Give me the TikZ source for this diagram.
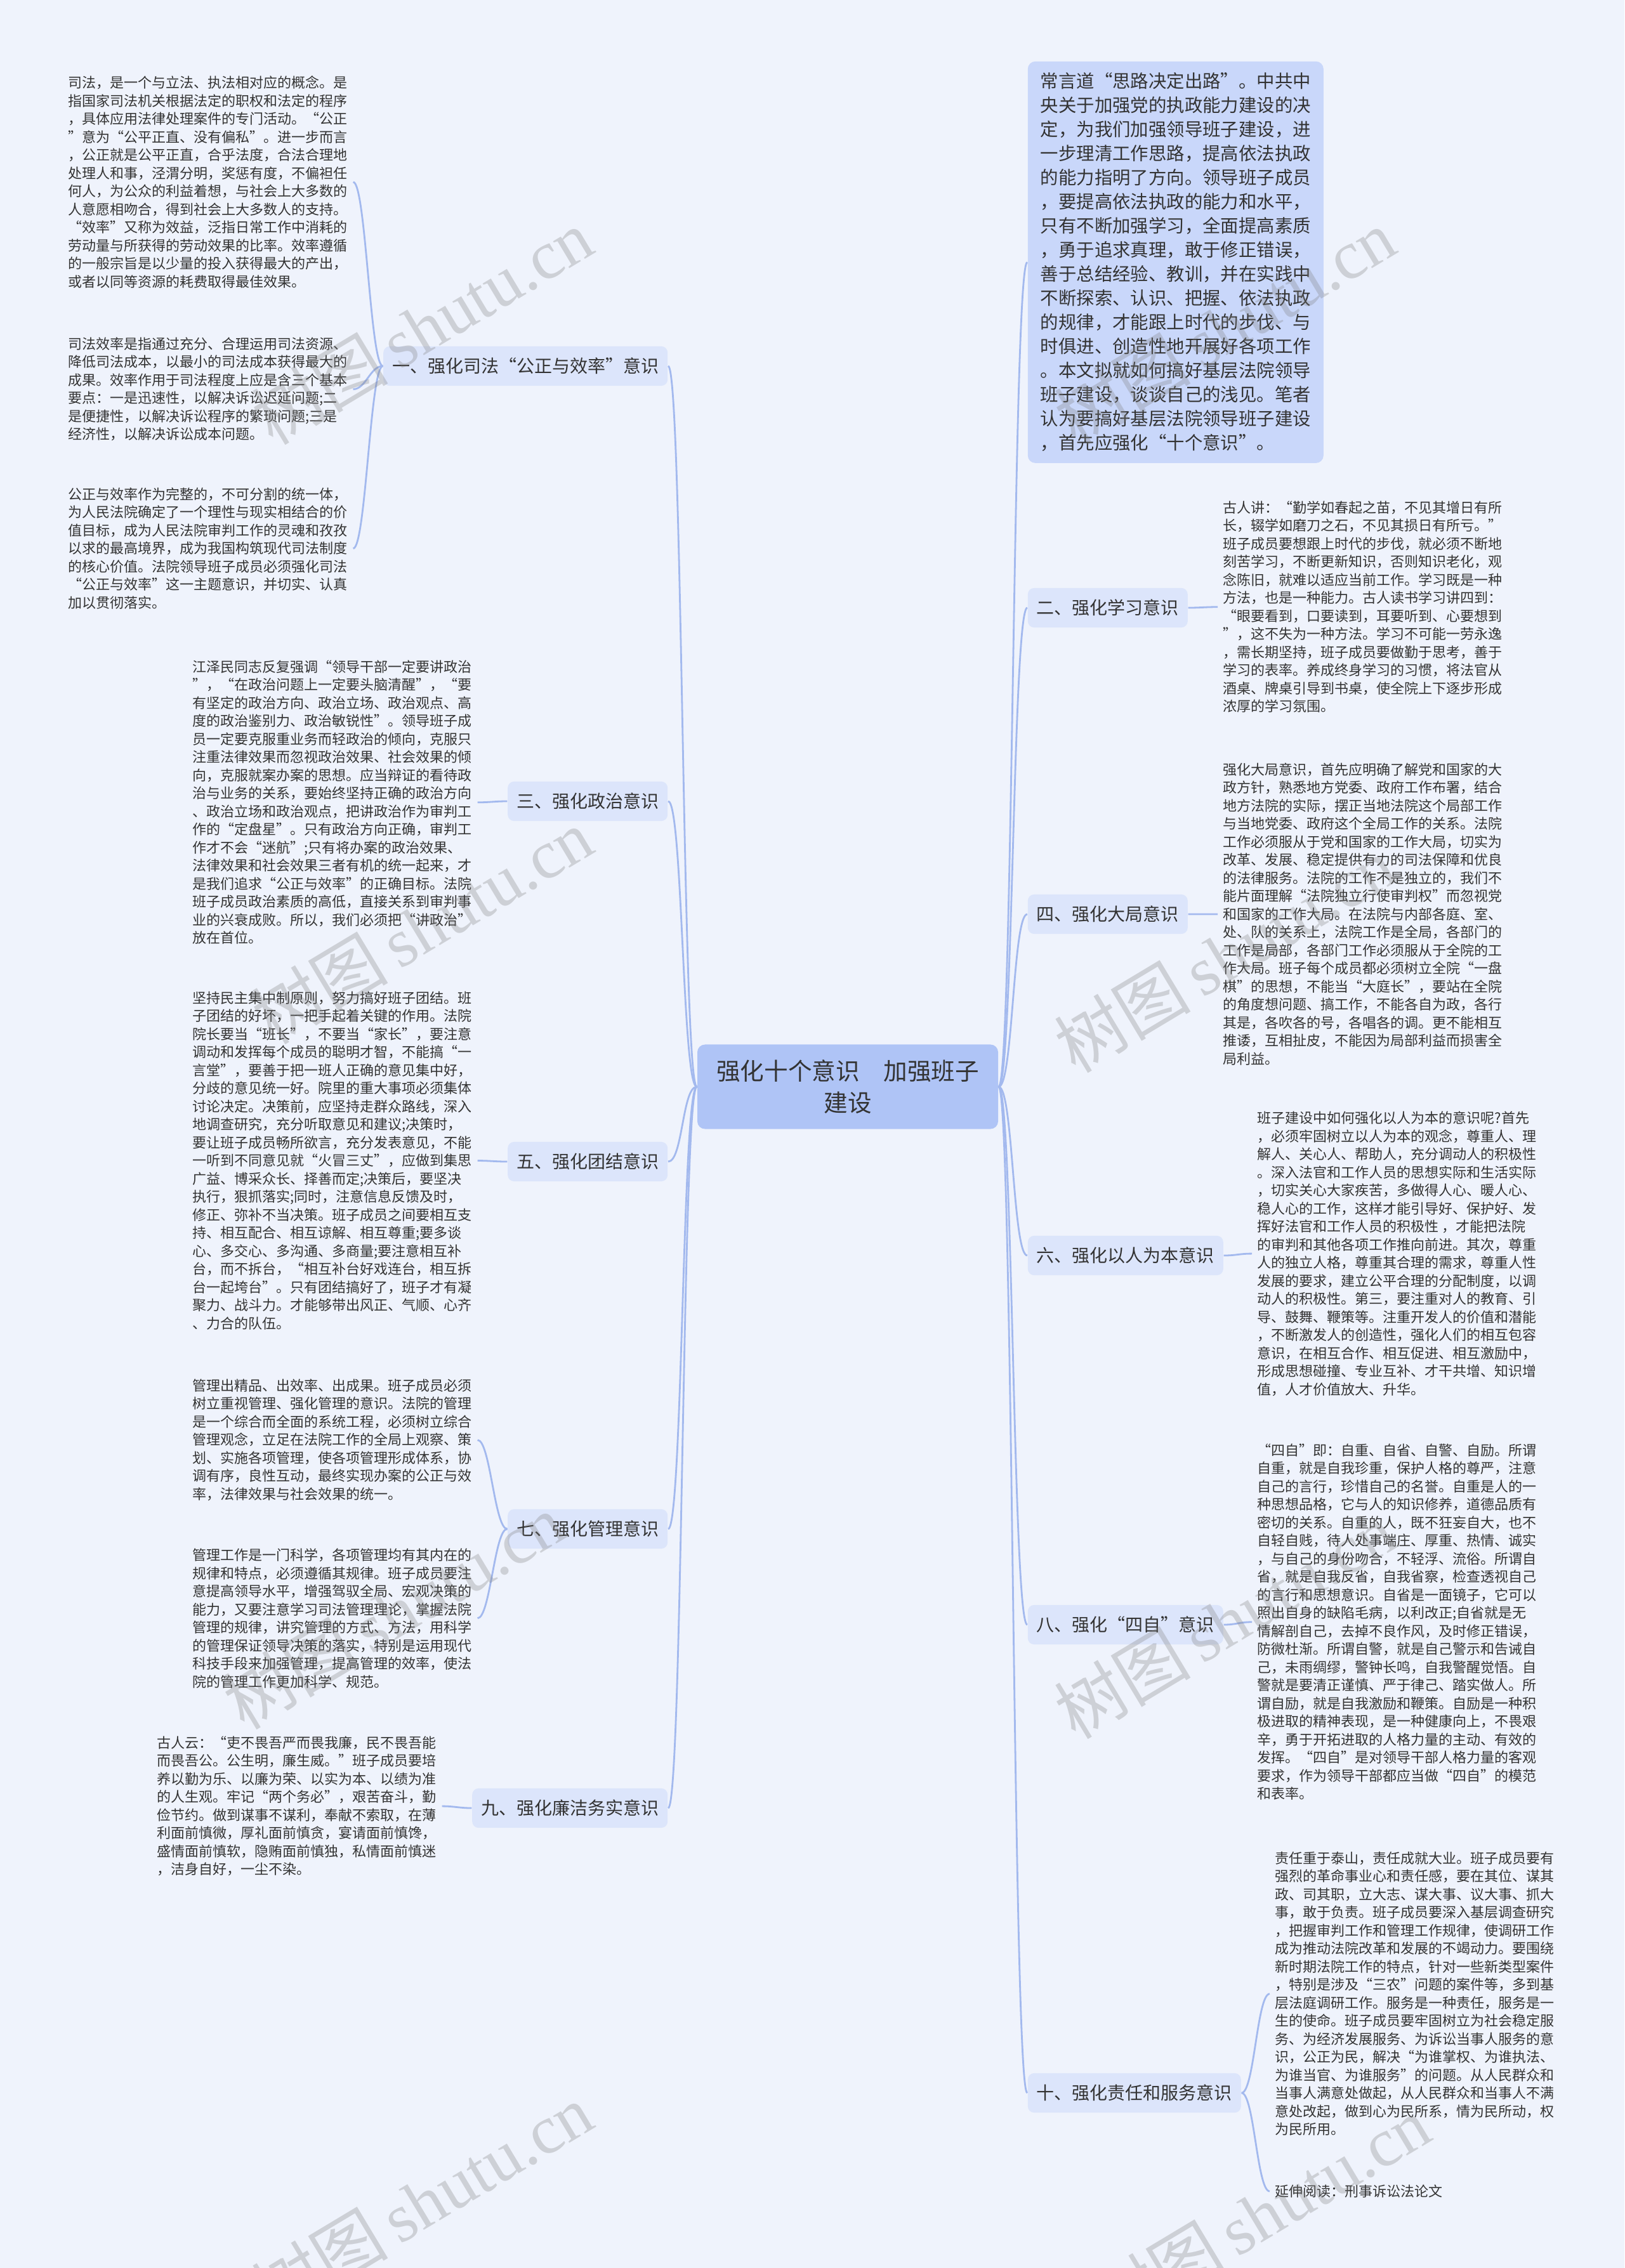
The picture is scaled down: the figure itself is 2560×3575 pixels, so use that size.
\documentclass[tikz,border=0pt]{standalone}
\usepackage{fontspec}
\setmainfont{Noto Sans CJK SC}
\newfontfamily\wmlatin{Liberation Serif}
\definecolor{bgcol}{HTML}{EFF3FC}
\definecolor{linecol}{HTML}{A3B9EE}
\definecolor{branchfill}{HTML}{DCE5FB}
\definecolor{introfill}{HTML}{C9D7FA}
\definecolor{centerfill}{HTML}{AFC4F6}
\definecolor{txtgray}{HTML}{333333}
\begin{document}
\begin{tikzpicture}[x=0.25pt,y=-0.25pt,
  txt/.style={font=\fontsize{5.5}{7.125}\selectfont, text=txtgray, align=left,
    inner xsep=2pt, inner ysep=0pt},
  branch/.style={font=\fontsize{7}{8}\selectfont, text=txtgray, fill=branchfill,
    rounded corners=2.5pt, inner xsep=3.5pt, inner ysep=4.5pt},
  intro/.style={font=\fontsize{7.1}{9.5}\selectfont, text=txtgray, fill=introfill,
    rounded corners=3pt, align=left, inner xsep=5pt, inner ysep=4.5pt},
  root/.style={font=\fontsize{9.4}{12.5}\selectfont, text=txtgray, fill=centerfill,
    rounded corners=3pt, align=center, minimum width=118.5pt, inner ysep=6pt},
  link/.style={draw=linecol, line width=0.7pt},
  wmark/.style={font=\fontsize{27}{27}\selectfont, text=gray, opacity=0.3, rotate=31}]

  \fill[bgcol] (0,0) rectangle (2560,3575);
  \useasboundingbox (0,0) rectangle (2560,3575);

  % centre
  \node[root] (ctr) at (1336,1713) {强化十个意识　加强班子\\建设};

  % left branches
  \node[branch, anchor=east] (b1) at (1053,577) {一、强化司法“公正与效率”意识};
  \node[branch, anchor=east] (b3) at (1053,1263) {三、强化政治意识};
  \node[branch, anchor=east] (b5) at (1053,1831) {五、强化团结意识};
  \node[branch, anchor=east] (b7) at (1053,2410) {七、强化管理意识};
  \node[branch, anchor=east] (b9) at (1053,2850) {九、强化廉洁务实意识};

  % right branches
  \node[intro, anchor=north west] (intro) at (1619,96) {常言道“思路决定出路”。中共中\\央关于加强党的执政能力建设的决\\定，为我们加强领导班子建设，进\\一步理清工作思路，提高依法执政\\的能力指明了方向。领导班子成员\\，要提高依法执政的能力和水平，\\只有不断加强学习，全面提高素质\\，勇于追求真理，敢于修正错误，\\善于总结经验、教训，并在实践中\\不断探索、认识、把握、依法执政\\的规律，才能跟上时代的步伐、与\\时俱进、创造性地开展好各项工作\\。本文拟就如何搞好基层法院领导\\班子建设，谈谈自己的浅见。笔者\\认为要搞好基层法院领导班子建设\\，首先应强化“十个意识”。};
  \node[branch, anchor=west] (b2) at (1619,958) {二、强化学习意识};
  \node[branch, anchor=west] (b4) at (1619,1441) {四、强化大局意识};
  \node[branch, anchor=west] (b6) at (1619,1979) {六、强化以人为本意识};
  \node[branch, anchor=west] (b8) at (1619,2561) {八、强化“四自”意识};
  \node[branch, anchor=west] (b10) at (1619,3299) {十、强化责任和服务意识};

  % left texts
  \node[txt, anchor=north west] (t1a) at (99,119) {司法，是一个与立法、执法相对应的概念。是\\指国家司法机关根据法定的职权和法定的程序\\，具体应用法律处理案件的专门活动。“公正\\”意为“公平正直、没有偏私”。进一步而言\\，公正就是公平正直，合乎法度，合法合理地\\处理人和事，泾渭分明，奖惩有度，不偏袒任\\何人，为公众的利益着想，与社会上大多数的\\人意愿相吻合，得到社会上大多数人的支持。\\“效率”又称为效益，泛指日常工作中消耗的\\劳动量与所获得的劳动效果的比率。效率遵循\\的一般宗旨是以少量的投入获得最大的产出，\\或者以同等资源的耗费取得最佳效果。};
  \node[txt, anchor=north west] (t1b) at (99,531) {司法效率是指通过充分、合理运用司法资源、\\降低司法成本，以最小的司法成本获得最大的\\成果。效率作用于司法程度上应是含三个基本\\要点：一是迅速性，以解决诉讼迟延问题;二\\是便捷性，以解决诉讼程序的繁琐问题;三是\\经济性，以解决诉讼成本问题。};
  \node[txt, anchor=north west] (t1c) at (99,768) {公正与效率作为完整的，不可分割的统一体，\\为人民法院确定了一个理性与现实相结合的价\\值目标，成为人民法院审判工作的灵魂和孜孜\\以求的最高境界，成为我国构筑现代司法制度\\的核心价值。法院领导班子成员必须强化司法\\“公正与效率”这一主题意识，并切实、认真\\加以贯彻落实。};
  \node[txt, anchor=north west] (t3) at (295,1040) {江泽民同志反复强调“领导干部一定要讲政治\\”，“在政治问题上一定要头脑清醒”，“要\\有坚定的政治方向、政治立场、政治观点、高\\度的政治鉴别力、政治敏锐性”。领导班子成\\员一定要克服重业务而轻政治的倾向，克服只\\注重法律效果而忽视政治效果、社会效果的倾\\向，克服就案办案的思想。应当辩证的看待政\\治与业务的关系，要始终坚持正确的政治方向\\、政治立场和政治观点，把讲政治作为审判工\\作的“定盘星”。只有政治方向正确，审判工\\作才不会“迷航”;只有将办案的政治效果、\\法律效果和社会效果三者有机的统一起来，才\\是我们追求“公正与效率”的正确目标。法院\\班子成员政治素质的高低，直接关系到审判事\\业的兴衰成败。所以，我们必须把“讲政治”\\放在首位。};
  \node[txt, anchor=north west] (t5) at (295,1562) {坚持民主集中制原则，努力搞好班子团结。班\\子团结的好坏，一把手起着关键的作用。法院\\院长要当“班长”，不要当“家长”，要注意\\调动和发挥每个成员的聪明才智，不能搞“一\\言堂”，要善于把一班人正确的意见集中好，\\分歧的意见统一好。院里的重大事项必须集体\\讨论决定。决策前，应坚持走群众路线，深入\\地调查研究，充分听取意见和建议;决策时，\\要让班子成员畅所欲言，充分发表意见，不能\\一听到不同意见就“火冒三丈”，应做到集思\\广益、博采众长、择善而定;决策后，要坚决\\执行，狠抓落实;同时，注意信息反馈及时，\\修正、弥补不当决策。班子成员之间要相互支\\持、相互配合、相互谅解、相互尊重;要多谈\\心、多交心、多沟通、多商量;要注意相互补\\台，而不拆台，“相互补台好戏连台，相互拆\\台一起垮台”。只有团结搞好了，班子才有凝\\聚力、战斗力。才能够带出风正、气顺、心齐\\、力合的队伍。};
  \node[txt, anchor=north west] (t7a) at (295,2173) {管理出精品、出效率、出成果。班子成员必须\\树立重视管理、强化管理的意识。法院的管理\\是一个综合而全面的系统工程，必须树立综合\\管理观念，立足在法院工作的全局上观察、策\\划、实施各项管理，使各项管理形成体系，协\\调有序，良性互动，最终实现办案的公正与效\\率，法律效果与社会效果的统一。};
  \node[txt, anchor=north west] (t7b) at (295,2440) {管理工作是一门科学，各项管理均有其内在的\\规律和特点，必须遵循其规律。班子成员要注\\意提高领导水平，增强驾驭全局、宏观决策的\\能力，又要注意学习司法管理理论，掌握法院\\管理的规律，讲究管理的方式、方法，用科学\\的管理保证领导决策的落实，特别是运用现代\\科技手段来加强管理，提高管理的效率，使法\\院的管理工作更加科学、规范。};
  \node[txt, anchor=north west] (t9) at (239,2736) {古人云：“吏不畏吾严而畏我廉，民不畏吾能\\而畏吾公。公生明，廉生威。”班子成员要培\\养以勤为乐、以廉为荣、以实为本、以绩为准\\的人生观。牢记“两个务必”，艰苦奋斗，勤\\俭节约。做到谋事不谋利，奉献不索取，在薄\\利面前慎微，厚礼面前慎贪，宴请面前慎馋，\\盛情面前慎软，隐贿面前慎独，私情面前慎迷\\，洁身自好，一尘不染。};

  % right texts
  \node[txt, anchor=north west] (t2) at (1919,789) {古人讲：“勤学如春起之苗，不见其增日有所\\长，辍学如磨刀之石，不见其损日有所亏。”\\班子成员要想跟上时代的步伐，就必须不断地\\刻苦学习，不断更新知识，否则知识老化，观\\念陈旧，就难以适应当前工作。学习既是一种\\方法，也是一种能力。古人读书学习讲四到：\\“眼要看到，口要读到，耳要听到、心要想到\\”，这不失为一种方法。学习不可能一劳永逸\\，需长期坚持，班子成员要做勤于思考，善于\\学习的表率。养成终身学习的习惯，将法官从\\酒桌、牌桌引导到书桌，使全院上下逐步形成\\浓厚的学习氛围。};
  \node[txt, anchor=north west] (t4) at (1919,1202) {强化大局意识，首先应明确了解党和国家的大\\政方针，熟悉地方党委、政府工作布署，结合\\地方法院的实际，摆正当地法院这个局部工作\\与当地党委、政府这个全局工作的关系。法院\\工作必须服从于党和国家的工作大局，切实为\\改革、发展、稳定提供有力的司法保障和优良\\的法律服务。法院的工作不是独立的，我们不\\能片面理解“法院独立行使审判权”而忽视党\\和国家的工作大局。在法院与内部各庭、室、\\处、队的关系上，法院工作是全局，各部门的\\工作是局部，各部门工作必须服从于全院的工\\作大局。班子每个成员都必须树立全院“一盘\\棋”的思想，不能当“大庭长”，要站在全院\\的角度想问题、搞工作，不能各自为政，各行\\其是，各吹各的号，各唱各的调。更不能相互\\推诿，互相扯皮，不能因为局部利益而损害全\\局利益。};
  \node[txt, anchor=north west] (t6) at (1973,1751) {班子建设中如何强化以人为本的意识呢?首先\\，必须牢固树立以人为本的观念，尊重人、理\\解人、关心人、帮助人，充分调动人的积极性\\。深入法官和工作人员的思想实际和生活实际\\，切实关心大家疾苦，多做得人心、暖人心、\\稳人心的工作，这样才能引导好、保护好、发\\挥好法官和工作人员的积极性 ，才能把法院\\的审判和其他各项工作推向前进。其次，尊重\\人的独立人格，尊重其合理的需求，尊重人性\\发展的要求，建立公平合理的分配制度，以调\\动人的积极性。第三，要注重对人的教育、引\\导、鼓舞、鞭策等。注重开发人的价值和潜能\\，不断激发人的创造性，强化人们的相互包容\\意识，在相互合作、相互促进、相互激励中，\\形成思想碰撞、专业互补、才干共增、知识增\\值，人才价值放大、升华。};
  \node[txt, anchor=north west] (t8) at (1973,2275) {“四自”即：自重、自省、自警、自励。所谓\\自重，就是自我珍重，保护人格的尊严，注意\\自己的言行，珍惜自己的名誉。自重是人的一\\种思想品格，它与人的知识修养，道德品质有\\密切的关系。自重的人，既不狂妄自大，也不\\自轻自贱，待人处事端庄、厚重、热情、诚实\\，与自己的身份吻合，不轻浮、流俗。所谓自\\省，就是自我反省，自我省察，检查透视自己\\的言行和思想意识。自省是一面镜子，它可以\\照出自身的缺陷毛病，以利改正;自省就是无\\情解剖自己，去掉不良作风，及时修正错误，\\防微杜渐。所谓自警，就是自己警示和告诫自\\己，未雨绸缪，警钟长鸣，自我警醒觉悟。自\\警就是要清正谨慎、严于律己、踏实做人。所\\谓自励，就是自我激励和鞭策。自励是一种积\\极进取的精神表现，是一种健康向上，不畏艰\\辛，勇于开拓进取的人格力量的主动、有效的\\发挥。“四自”是对领导干部人格力量的客观\\要求，作为领导干部都应当做“四自”的模范\\和表率。};
  \node[txt, anchor=north west] (t10) at (2001,2918) {责任重于泰山，责任成就大业。班子成员要有\\强烈的革命事业心和责任感，要在其位、谋其\\政、司其职，立大志、谋大事、议大事、抓大\\事，敢于负责。班子成员要深入基层调查研究\\，把握审判工作和管理工作规律，使调研工作\\成为推动法院改革和发展的不竭动力。要围绕\\新时期法院工作的特点，针对一些新类型案件\\，特别是涉及“三农”问题的案件等，多到基\\层法庭调研工作。服务是一种责任，服务是一\\生的使命。班子成员要牢固树立为社会稳定服\\务、为经济发展服务、为诉讼当事人服务的意\\识，公正为民，解决“为谁掌权、为谁执法、\\为谁当官、为谁服务”的问题。从人民群众和\\当事人满意处做起，从人民群众和当事人不满\\意处改起，做到心为民所系，情为民所动，权\\为民所用。};
  \node[txt, anchor=north west] (ext) at (2001,3443) {延伸阅读：刑事诉讼法论文};

  % centre to branches
  \draw[link] (ctr.west) .. controls +(-23,0) and +(23,0) .. (b1.east);
  \draw[link] (ctr.west) .. controls +(-23,0) and +(23,0) .. (b3.east);
  \draw[link] (ctr.west) .. controls +(-23,0) and +(23,0) .. (b5.east);
  \draw[link] (ctr.west) .. controls +(-23,0) and +(23,0) .. (b7.east);
  \draw[link] (ctr.west) .. controls +(-23,0) and +(23,0) .. (b9.east);
  \draw[link] (ctr.east) .. controls +(23,0) and +(-23,0) .. (intro.west);
  \draw[link] (ctr.east) .. controls +(23,0) and +(-23,0) .. (b2.west);
  \draw[link] (ctr.east) .. controls +(23,0) and +(-23,0) .. (b4.west);
  \draw[link] (ctr.east) .. controls +(23,0) and +(-23,0) .. (b6.west);
  \draw[link] (ctr.east) .. controls +(23,0) and +(-23,0) .. (b8.west);
  \draw[link] (ctr.east) .. controls +(23,0) and +(-23,0) .. (b10.west);

  % branches to texts
  \draw[link] (b1.west) .. controls +(-20,0) and +(20,0) .. (t1a.east);
  \draw[link] (b1.west) .. controls +(-20,0) and +(20,0) .. (t1b.east);
  \draw[link] (b1.west) .. controls +(-20,0) and +(20,0) .. (t1c.east);
  \draw[link] (b3.west) .. controls +(-20,0) and +(20,0) .. (t3.east);
  \draw[link] (b5.west) .. controls +(-20,0) and +(20,0) .. (t5.east);
  \draw[link] (b7.west) .. controls +(-20,0) and +(20,0) .. (t7a.east);
  \draw[link] (b7.west) .. controls +(-20,0) and +(20,0) .. (t7b.east);
  \draw[link] (b9.west) .. controls +(-20,0) and +(20,0) .. (t9.east);
  \draw[link] (b2.east) .. controls +(20,0) and +(-20,0) .. (t2.west);
  \draw[link] (b4.east) .. controls +(20,0) and +(-20,0) .. (t4.west);
  \draw[link] (b6.east) .. controls +(20,0) and +(-20,0) .. (t6.west);
  \draw[link] (b8.east) .. controls +(20,0) and +(-20,0) .. (t8.west);
  \draw[link] (b10.east) .. controls +(20,0) and +(-20,0) .. (t10.west);
  \draw[link] (b10.east) .. controls +(20,0) and +(-20,0) .. (ext.west);

  % watermarks
  \node[wmark] (wm1) at (665,515) {树图\,{\wmlatin shutu.cn}};
  \node[wmark] (wm2) at (665,1460) {树图\,{\wmlatin shutu.cn}};
  \node[wmark] (wm3) at (620,2540) {树图\,{\wmlatin shutu.cn}};
  \node[wmark] (wm4) at (665,3470) {树图\,{\wmlatin shutu.cn}};
  \node[wmark] (wm5) at (1930,515) {树图\,{\wmlatin shutu.cn}};
  \node[wmark] (wm6) at (1930,1505) {树图\,{\wmlatin shutu.cn}};
  \node[wmark] (wm7) at (1930,2555) {树图\,{\wmlatin shutu.cn}};
  \node[wmark] (wm8) at (1985,3490) {树图\,{\wmlatin shutu.cn}};
\end{tikzpicture}
\end{document}
